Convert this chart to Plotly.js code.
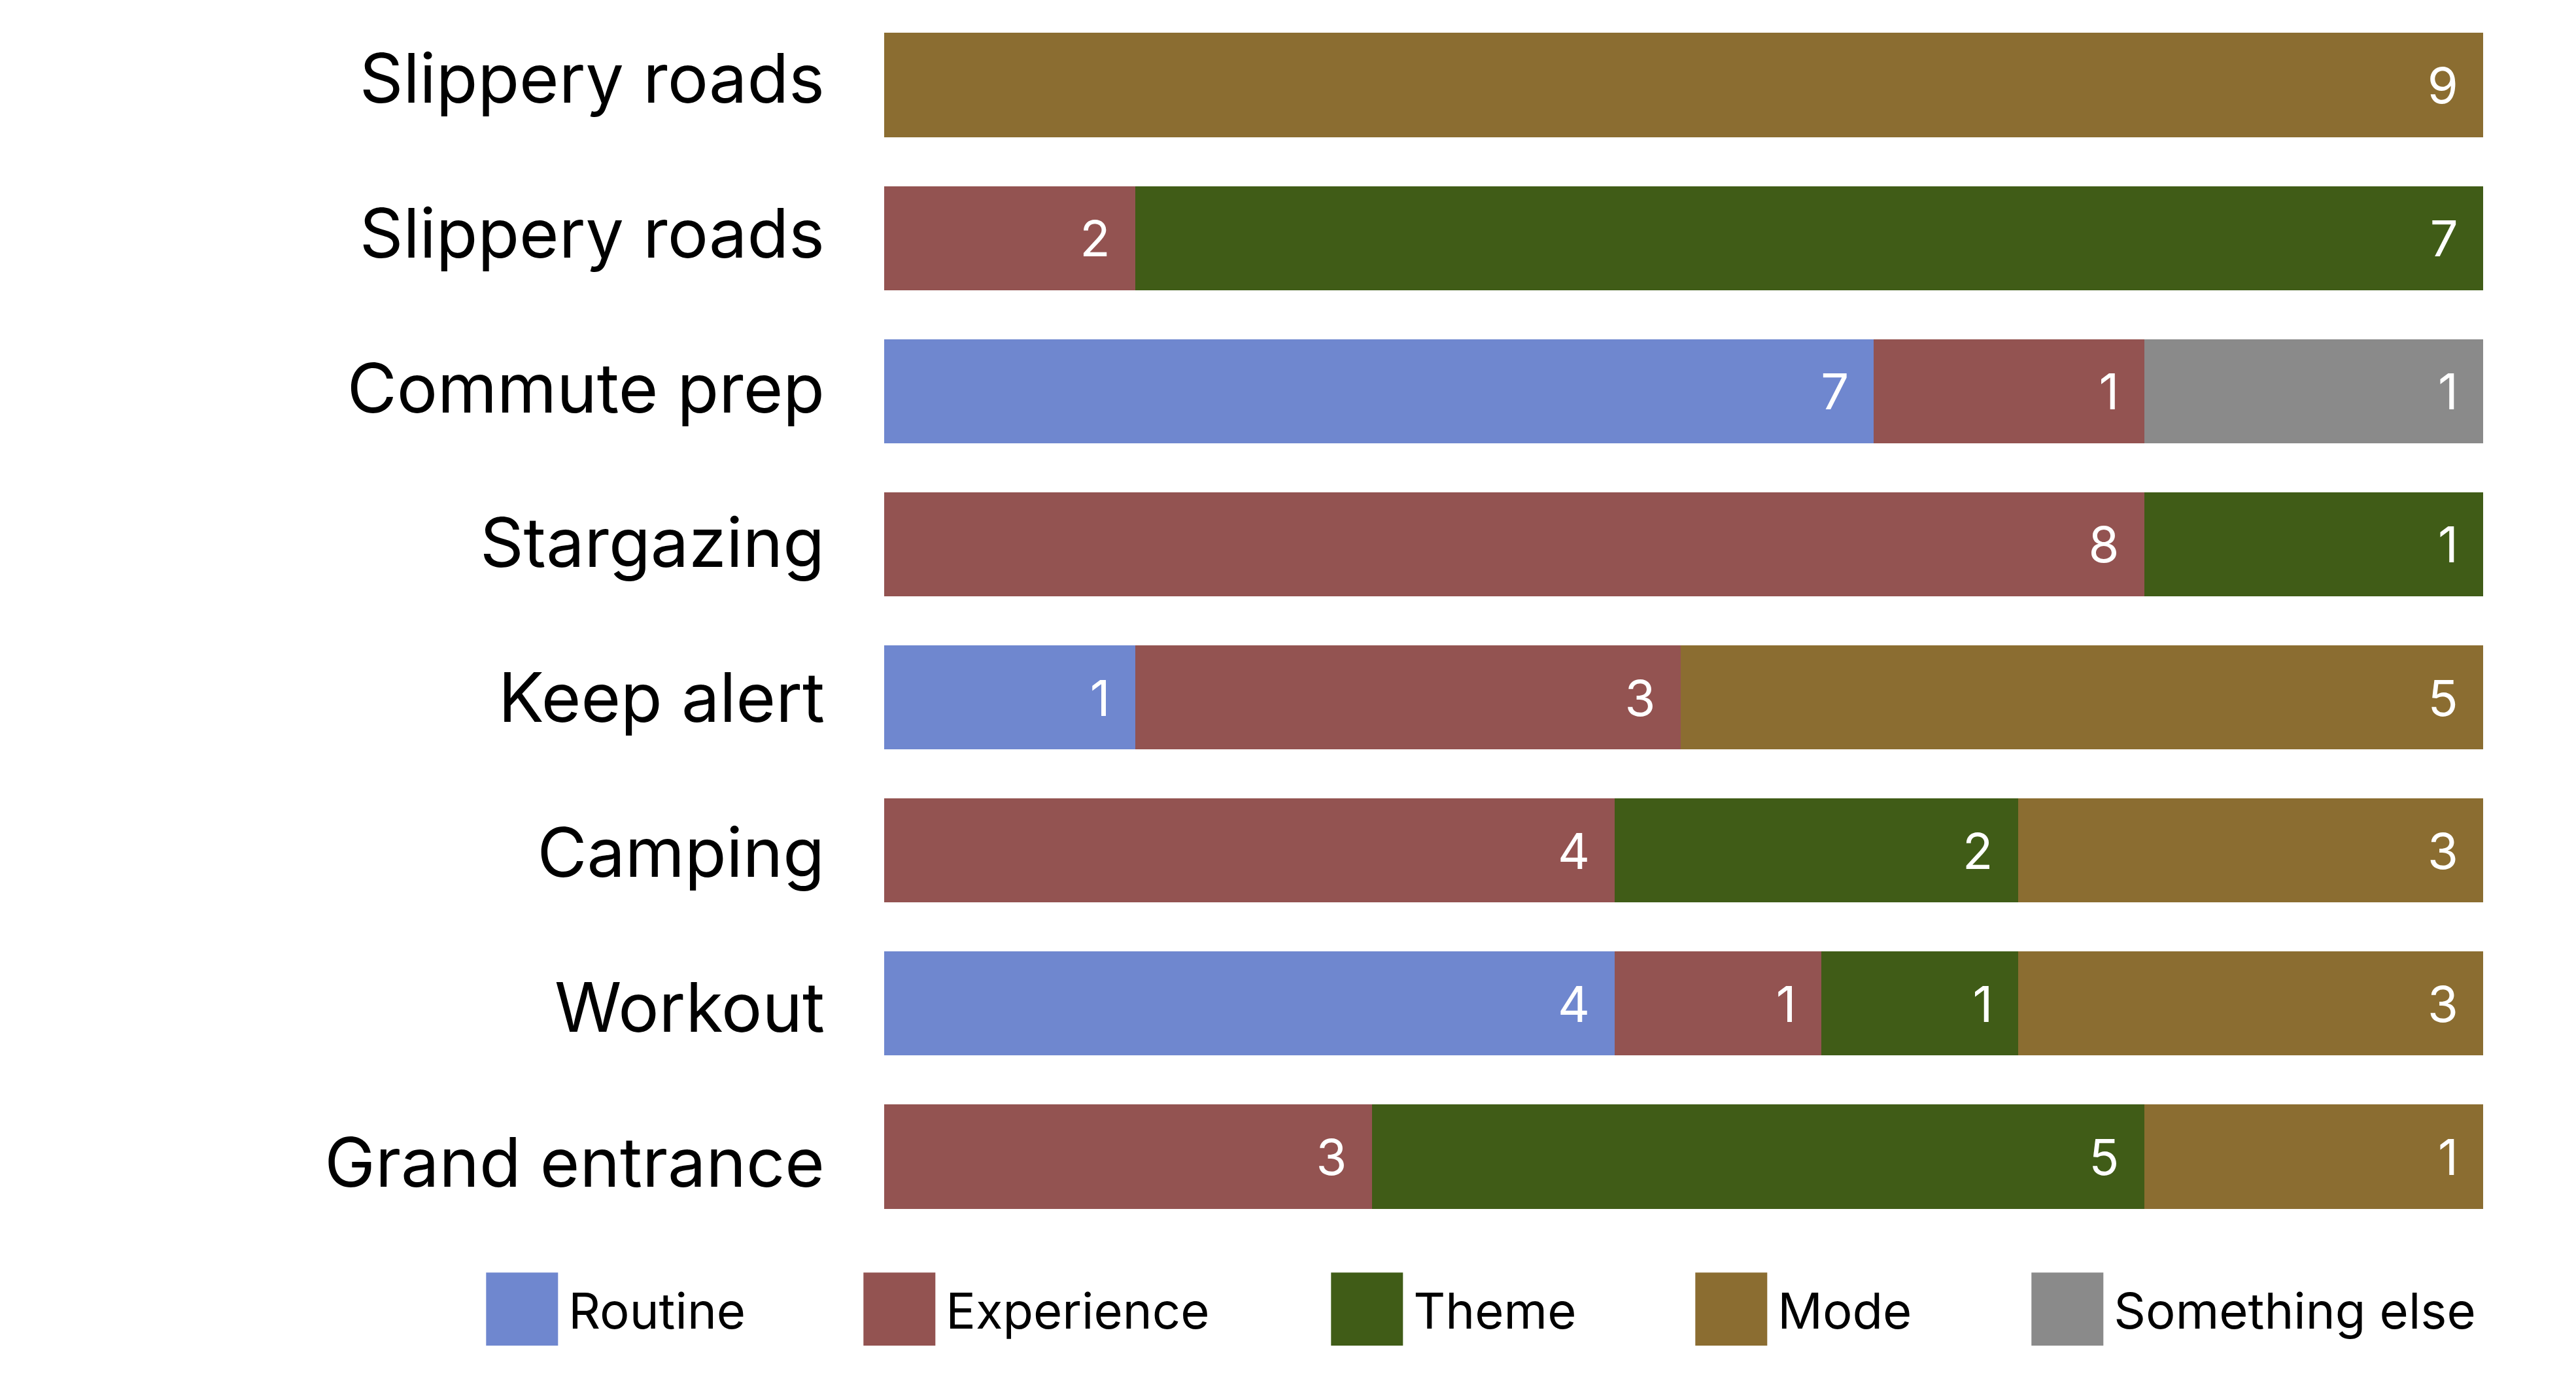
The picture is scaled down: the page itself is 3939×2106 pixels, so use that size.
<!DOCTYPE html>
<html>
<head>
<meta charset="utf-8">
<script src="https://cdn.plot.ly/plotly-3.0.1.min.js"></script>
<style>
  html, body { margin: 0; padding: 0; background: #fff; }
  #chart { width: 3939px; height: 2106px; }
</style>
</head>
<body>
<div id="chart"></div>
<script>
// rows, top to bottom
var rows = ['Slippery roads', 'Slippery roads', 'Commute prep', 'Stargazing',
            'Keep alert', 'Camping', 'Workout', 'Grand entrance'];

// share of the bar (%) per category
var routinePct    = [null, null, 61.9, null, 15.7, null, 45.7, null];
var experiencePct = [null, 15.7, 16.9, 78.8, 34.1, 45.7, 12.9, 30.5];
var themePct      = [null, 84.3, null, 21.2, null, 25.2, 12.3, 48.3];
var modePct       = [100, null, null, null, 50.2, 29.1, 29.1, 21.2];
var otherPct      = [null, null, 21.2, null, null, null, null, null];

// counts written on the bars
var routineN    = [null, null, 7, null, 1, null, 4, null];
var experienceN = [null, 2, 1, 8, 3, 4, 1, 3];
var themeN      = [null, 7, null, 1, null, 2, 1, 5];
var modeN       = [9, null, null, null, 5, 3, 3, 1];
var otherN      = [null, null, 1, null, null, null, null, null];

var seriesNames = ['Routine', 'Experience', 'Theme', 'Mode', 'Something else'];
var seriesColors = ['#6f87cf', '#935351', '#405c17', '#8b6d31', '#8a8a8a'];
var legendWidths = [430, 568, 410, 367, null];

var pos = rows.map(function (r, i) { return i; });

function makeTrace(k, vals, counts) {
  return {
    type: 'bar',
    orientation: 'h',
    name: seriesNames[k],
    x: vals,
    y: pos,
    text: counts,
    texttemplate: '%{text}\u00a0\u2009',
    textposition: 'inside',
    insidetextanchor: 'end',
    textangle: 0,
    textfont: {family: 'Inter', size: 76, color: '#ffffff'},
    marker: {color: seriesColors[k], line: {width: 0}},
    legendwidth: legendWidths[k] || undefined,
    hoverinfo: 'skip'
  };
}

var data = [
  makeTrace(0, routinePct, routineN),
  makeTrace(1, experiencePct, experienceN),
  makeTrace(2, themePct, themeN),
  makeTrace(3, modePct, modeN),
  makeTrace(4, otherPct, otherN),
  // empty trace so the label axis gets drawn
  {type: 'scatter', x: [], y: [], yaxis: 'y2', showlegend: false, hoverinfo: 'skip'}
];

var layout = {
  width: 3939,
  height: 2106,
  barmode: 'stack',
  bargap: 0.32,
  paper_bgcolor: '#ffffff',
  plot_bgcolor: '#ffffff',
  margin: {l: 1352, r: 142, t: 13, b: 220},
  font: {family: 'Inter', color: '#000000'},
  xaxis: {
    range: [0, 100],
    showgrid: false, zeroline: false, showticklabels: false, showline: false
  },
  // bars
  yaxis: {
    range: [7.5, -0.5],
    showticklabels: false, ticks: '',
    showgrid: false, zeroline: false, showline: false
  },
  // row labels, spaced a touch wider than the bars
  yaxis2: {
    overlaying: 'y',
    side: 'left',
    range: [7.453, -0.453],
    tickvals: pos,
    ticktext: rows,
    ticks: '',
    showgrid: false, zeroline: false, showline: false,
    ticklabelstandoff: 90,
    tickfont: {family: 'Inter', size: 104, color: '#000000'}
  },
  legend: {
    orientation: 'h',
    x: -0.2555, xanchor: 'left',
    y: -0.062, yanchor: 'middle',
    itemwidth: 132,
    font: {family: 'Inter', size: 76, color: '#000000'},
    traceorder: 'normal'
  },
  showlegend: true
};

function bigSwatches() {
  var paths = document.querySelectorAll('#chart .legendpoints path');
  for (var i = 0; i < paths.length; i++) {
    paths[i].setAttribute('d', 'M55,56H-55V-56H55Z');
    paths[i].style.strokeWidth = '0px';
  }
}

Plotly.newPlot('chart', data, layout, {displayModeBar: false, staticPlot: true}).then(bigSwatches);
</script>
</body>
</html>
